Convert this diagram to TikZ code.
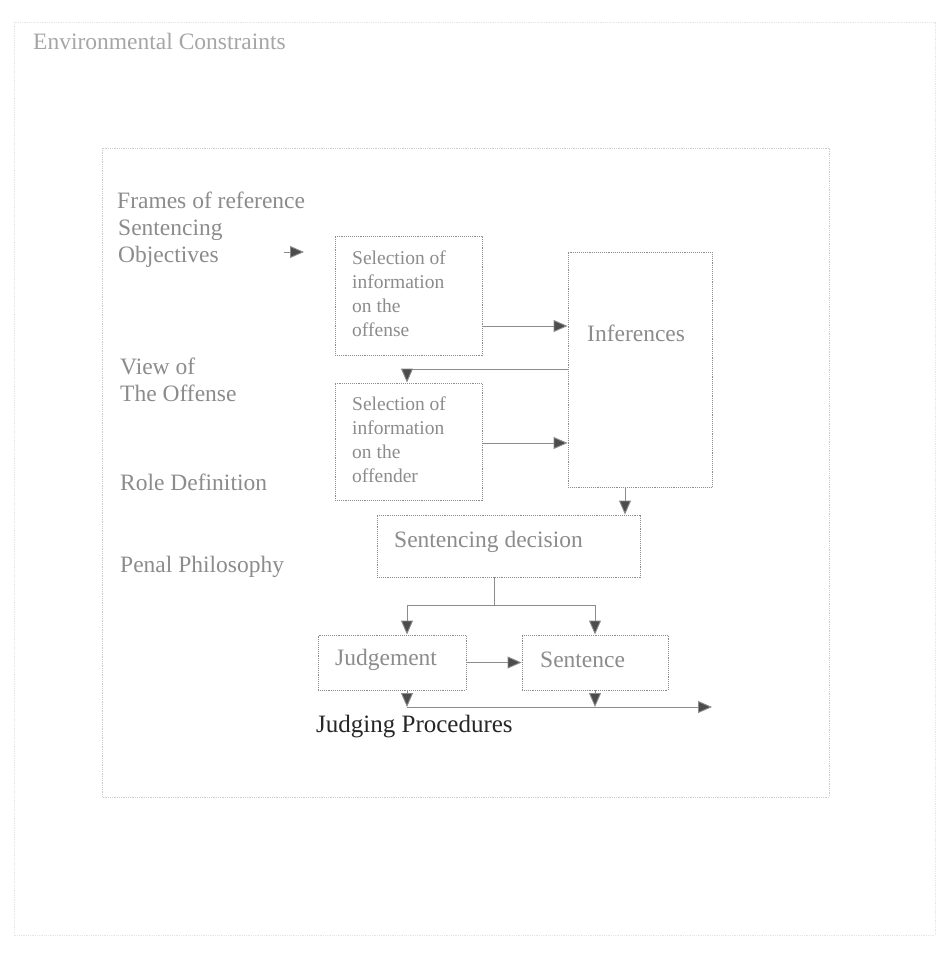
\documentclass[tikz,border=0pt]{standalone}
\usepackage{fontspec}
\setmainfont{Liberation Serif}
\usetikzlibrary{arrows.meta}
\begin{document}
\begin{tikzpicture}[x=1pt,y=-1pt,
  frame/.style={draw=black!20, densely dotted, line width=0.8pt},
  boxnode/.style={draw=black!45, densely dotted, line width=0.9pt, inner sep=0pt},
  lbl/.style={text=black!45, font=\fontsize{23.5}{27}\selectfont, align=left, inner sep=0pt},
  boxtext/.style={text=black!45, font=\fontsize{19.5}{24}\selectfont, align=left, inner sep=0pt},
  conn/.style={draw=black!45, line width=0.9pt},
  arr/.style={conn, -{Triangle[length=14pt,width=12pt,fill=black!70]}}
]
\fill[white] (0,0) rectangle (946,957);
\useasboundingbox (0,0) rectangle (946,957);

% frames
\draw[frame, draw=black!10] (14,22) rectangle (935,935);
\draw[frame] (102,148) rectangle (829,797);

\node[lbl, text=black!35, anchor=west] (title) at (33,41) {Environmental Constraints};
\node[lbl, anchor=west] (frames) at (117,200) {Frames of reference};
\node[lbl, anchor=west] (objectives) at (118,244) {Sentencing\\Objectives};
\node[lbl, anchor=west] (view) at (120,380) {View of\\The Offense};
\node[lbl, anchor=west] (role) at (120,482) {Role Definition};
\node[lbl, anchor=west] (penal) at (120,567) {Penal Philosophy};

% boxes
\node[boxnode, minimum width=147pt, minimum height=119pt] (box1) at (408.5,295.5) {};
\node[boxtext, anchor=west] (t1) at (352,294) {Selection of\\information\\on the\\offense};
\node[boxnode, minimum width=147pt, minimum height=117pt] (box2) at (408.5,441.5) {};
\node[boxtext, anchor=west] (t2) at (352,440) {Selection of\\information\\on the\\offender};
\node[boxnode, minimum width=144pt, minimum height=235pt] (infer) at (640,369.5) {};
\node[lbl, anchor=west] (tinfer) at (587,333) {Inferences};
\node[boxnode, minimum width=263pt, minimum height=62pt] (dec) at (508.5,546) {};
\node[lbl, anchor=west] (tdec) at (394,542) {Sentencing decision};
\node[boxnode, minimum width=148pt, minimum height=55pt] (judg) at (392,662.5) {};
\node[lbl, anchor=west] (tjudg) at (335,660) {Judgement};
\node[boxnode, minimum width=146pt, minimum height=55pt] (sent) at (595,662.5) {};
\node[lbl, anchor=west] (tsent) at (540,660) {Sentence};

\node[text=black!85, font=\fontsize{25}{28}\selectfont, anchor=west, inner sep=0pt] (judging) at (316,727) {Judging Procedures};

% helper coordinates
\coordinate (objS) at (284,252);
\coordinate (objE) at (304,252);
\coordinate (c1) at (0,326);
\coordinate (c2) at (0,443);
\coordinate (c3) at (0,369);
\coordinate (c4) at (625,0);
\coordinate (c5) at (494,0);
\coordinate (c6) at (0,605);
\coordinate (c7) at (407,0);
\coordinate (jb) at (407,707);
\coordinate (sb) at (595,707);
\coordinate (out) at (712,707);

% connectors
\draw[arr] (objS) -- (objE);
\draw[arr] (box1.east |- c1) -- (infer.west |- c1);
\draw[arr] (box2.east |- c2) -- (infer.west |- c2);
\draw[arr] (infer.west |- c3) -| (box2.north -| c7);
\draw[arr] (infer.south -| c4) -- (dec.north -| c4);
\draw[conn] (dec.south -| c5) -- (c5 |- c6);
\draw[arr] (c5 |- c6) -| (judg.north -| c7);
\draw[arr] (c5 |- c6) -| (sent.north);
\draw[arr] (judg.east |- sent.west) -- (sent.west);
\draw[arr] (judg.south -| c7) -- (jb);
\draw[arr] (sent.south) -- (sb);
\draw[arr] (jb) -- (out);
\end{tikzpicture}
\end{document}
